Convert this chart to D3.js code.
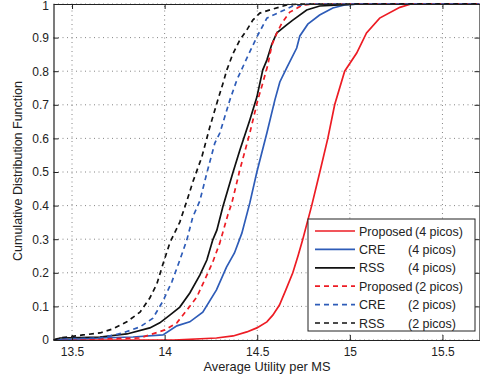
<!DOCTYPE html>
<html><head><meta charset="utf-8">
<script src="https://cdn.jsdelivr.net/npm/d3@7"></script>
<style>body{margin:0;background:#fff}svg{display:block}text{font-family:"Liberation Sans",Arial,sans-serif}</style>
</head><body><svg id="c" width="480" height="379"></svg>
<script>
const xTicks = [13.5, 14, 14.5, 15, 15.5];
const xTickLabels = ["13.5", "14", "14.5", "15", "15.5"];
const yTicks = [0, 0.1, 0.2, 0.3, 0.4, 0.5, 0.6, 0.7, 0.8, 0.9, 1];
const yTickLabels = ["0", "0.1", "0.2", "0.3", "0.4", "0.5", "0.6", "0.7", "0.8", "0.9", "1"];

const seriesNames = ["Proposed", "CRE", "RSS", "Proposed", "CRE", "RSS"];
const seriesPicos = ["(4 picos)", "(4 picos)", "(4 picos)", "(2 picos)", "(2 picos)", "(2 picos)"];

const proposed4X = [13.4, 14.05, 14.28, 14.37, 14.444, 14.498, 14.552, 14.584, 14.62, 14.655, 14.692, 14.72, 14.746, 14.794, 14.838, 14.881, 14.918, 14.972, 15.037, 15.09, 15.161, 15.27, 15.33, 15.7];
const proposed4Y = [0, 0, 0.006, 0.012, 0.024, 0.036, 0.054, 0.074, 0.104, 0.15, 0.2, 0.25, 0.3, 0.4, 0.5, 0.6, 0.7, 0.8, 0.854, 0.914, 0.958, 0.99, 1, 1];

const cre4X = [13.4, 13.651, 13.829, 13.991, 14.066, 14.136, 14.206, 14.28, 14.334, 14.377, 14.417, 14.46, 14.498, 14.552, 14.595, 14.622, 14.659, 14.713, 14.73, 14.773, 14.837, 14.908, 14.972, 15.053, 15.7];
const cre4Y = [0, 0.006, 0.009, 0.015, 0.042, 0.054, 0.083, 0.149, 0.217, 0.259, 0.318, 0.408, 0.5, 0.616, 0.714, 0.768, 0.81, 0.869, 0.905, 0.94, 0.967, 0.988, 0.997, 1, 1];

const rss4X = [13.4, 13.435, 13.651, 13.796, 13.92, 13.974, 14.028, 14.082, 14.136, 14.19, 14.228, 14.26, 14.282, 14.314, 14.368, 14.406, 14.46, 14.498, 14.53, 14.552, 14.579, 14.606, 14.659, 14.692, 14.767, 14.837, 14.945, 15.053, 15.7];
const rss4Y = [0, 0.006, 0.009, 0.018, 0.036, 0.051, 0.074, 0.098, 0.14, 0.193, 0.238, 0.298, 0.327, 0.396, 0.497, 0.565, 0.655, 0.723, 0.804, 0.833, 0.881, 0.914, 0.938, 0.952, 0.982, 0.994, 0.997, 1, 1];

const proposed2X = [13.4, 13.651, 13.867, 14.001, 14.066, 14.12, 14.174, 14.228, 14.26, 14.298, 14.341, 14.363, 14.406, 14.46, 14.503, 14.53, 14.557, 14.579, 14.606, 14.633, 14.676, 14.746, 14.81, 15.7];
const proposed2Y = [0, 0.003, 0.006, 0.03, 0.051, 0.089, 0.128, 0.193, 0.232, 0.289, 0.372, 0.408, 0.506, 0.616, 0.714, 0.765, 0.818, 0.878, 0.914, 0.943, 0.976, 0.997, 1, 1];

const cre2X = [13.4, 13.435, 13.651, 13.775, 13.867, 13.937, 13.991, 14.039, 14.082, 14.12, 14.152, 14.19, 14.228, 14.271, 14.298, 14.352, 14.39, 14.444, 14.498, 14.552, 14.622, 14.692, 14.784, 15.7];
const cre2Y = [0, 0.003, 0.006, 0.021, 0.039, 0.065, 0.116, 0.173, 0.238, 0.298, 0.366, 0.414, 0.497, 0.586, 0.616, 0.714, 0.774, 0.839, 0.902, 0.958, 0.976, 0.994, 1, 1];

const rss2X = [13.4, 13.435, 13.559, 13.651, 13.721, 13.796, 13.867, 13.92, 13.958, 13.991, 14.028, 14.082, 14.12, 14.152, 14.201, 14.244, 14.287, 14.314, 14.336, 14.368, 14.406, 14.444, 14.476, 14.514, 14.584, 14.659, 14.73, 15.7];
const rss2Y = [0, 0.006, 0.015, 0.021, 0.033, 0.054, 0.083, 0.125, 0.167, 0.226, 0.289, 0.351, 0.414, 0.47, 0.545, 0.634, 0.714, 0.762, 0.804, 0.851, 0.893, 0.923, 0.952, 0.973, 0.985, 0.997, 1, 1];

const seriesX = [proposed4X, cre4X, rss4X, proposed2X, cre2X, rss2X];
const seriesY = [proposed4Y, cre4Y, rss4Y, proposed2Y, cre2Y, rss2Y];
const colors = ["#ed1c24", "#2e5cb8", "#111111", "#ed1c24", "#2e5cb8", "#111111"];
const dashed = [false, false, false, true, true, true];

const svg = d3.select("#c");
const L = 53.5, R = 479.5, T = 4, B = 340;
const x = d3.scaleLinear().domain([13.4, 15.7]).range([L, R]);
const y = d3.scaleLinear().domain([0, 1]).range([B, T]);

// grid
const grid = svg.append("g").attr("stroke", "#666").attr("stroke-width", 0.8).attr("stroke-dasharray", "1,3.5");
xTicks.forEach(v => grid.append("line").attr("x1", x(v)).attr("x2", x(v)).attr("y1", B).attr("y2", T));
yTicks.forEach(v => grid.append("line").attr("x1", L).attr("x2", R).attr("y1", y(v)).attr("y2", y(v)));

// clip
svg.append("clipPath").attr("id", "clip").append("rect").attr("x", L).attr("y", T - 2).attr("width", R - L).attr("height", B - T + 2);

const line = d3.line().x(d => x(d[0])).y(d => y(d[1]));
const plot = svg.append("g").attr("clip-path", "url(#clip)");
seriesX.forEach((xs, i) => {
  const pts = xs.map((v, j) => [v, seriesY[i][j]]);
  plot.append("path").datum(pts).attr("d", line).attr("fill", "none")
    .attr("stroke", colors[i]).attr("stroke-width", 1.7)
    .attr("stroke-dasharray", dashed[i] ? "5,4" : null);
});

// axes with inward ticks (all sides)
const axB = svg.append("g").attr("transform", `translate(0,${B})`)
  .call(d3.axisBottom(x).tickValues(xTicks).tickFormat((d, i) => xTickLabels[i]).tickSizeInner(-5).tickSizeOuter(0).tickPadding(7));
const axT = svg.append("g").attr("transform", `translate(0,${T})`)
  .call(d3.axisTop(x).tickValues(xTicks).tickFormat("").tickSizeInner(-5).tickSizeOuter(0));
const axL = svg.append("g").attr("transform", `translate(${L},0)`)
  .call(d3.axisLeft(y).tickValues(yTicks).tickFormat((d, i) => yTickLabels[i]).tickSizeInner(-5).tickSizeOuter(0).tickPadding(4.5));
const axR = svg.append("g").attr("transform", `translate(${R},0)`)
  .call(d3.axisRight(y).tickValues(yTicks).tickFormat("").tickSizeInner(-5).tickSizeOuter(0));
[axB, axT, axL, axR].forEach(a => {
  a.selectAll("path").attr("stroke", "#222").attr("stroke-width", 1.2);
  a.selectAll("line").attr("stroke", "#222").attr("stroke-width", 1);
  a.selectAll("text").attr("font-size", 12).attr("fill", "#222").attr("font-family", "Liberation Sans, Arial, sans-serif");
});
axL.selectAll(".tick").filter(d => d === 1).select("text").attr("dy", "0.45em");

// axis labels
svg.append("text").attr("x", 267).attr("y", 371).attr("text-anchor", "middle").attr("font-size", 12.8).attr("fill", "#222").text("Average Utility per MS");
svg.append("text").attr("transform", "translate(22,171) rotate(-90)").attr("text-anchor", "middle").attr("font-size", 12.5).attr("fill", "#222").text("Cumulative Distribution Function");

// legend
const lg = svg.append("g");
lg.append("rect").attr("x", 308).attr("y", 219).attr("width", 167).attr("height", 112).attr("fill", "#fff").attr("stroke", "#222").attr("stroke-width", 1);
seriesNames.forEach((n, i) => {
  const yy = 231 + i * 18.4;
  lg.append("line").attr("x1", 315).attr("x2", 355).attr("y1", yy).attr("y2", yy)
    .attr("stroke", colors[i]).attr("stroke-width", 1.7).attr("stroke-dasharray", dashed[i] ? "5,4" : null);
  lg.append("text").attr("x", 359).attr("y", yy + 4.5).attr("font-size", 12.5).attr("fill", "#222").text(n);
  lg.append("text").attr("x", n === "Proposed" ? 415 : 408).attr("y", yy + 4.5).attr("font-size", 12.5).attr("fill", "#222").text(seriesPicos[i]);
});
</script></body></html>
